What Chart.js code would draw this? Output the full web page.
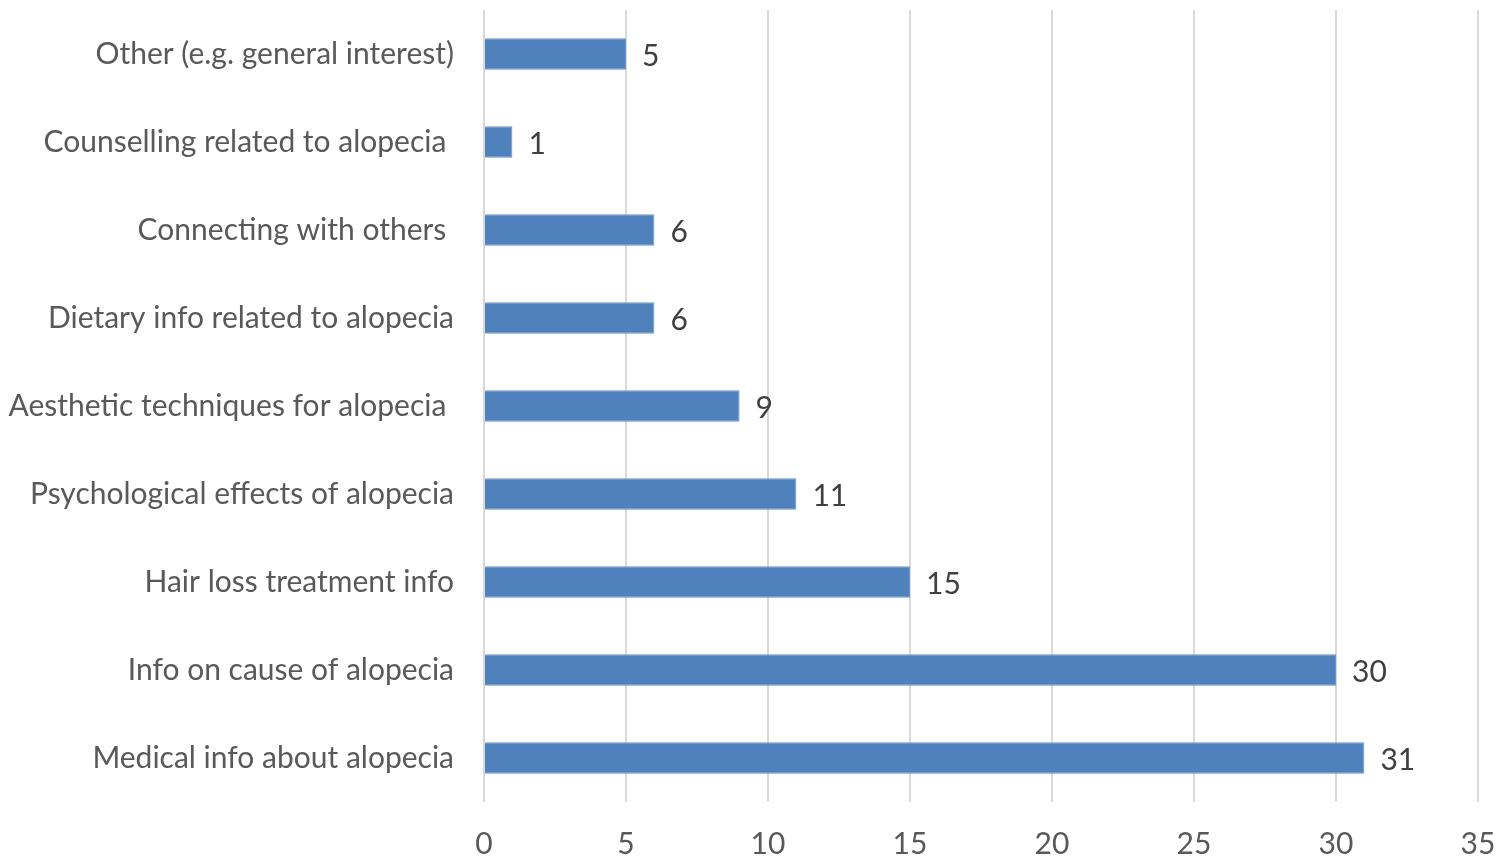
<!DOCTYPE html>
<html>
<head>
<meta charset="utf-8">
<script src="https://cdn.jsdelivr.net/npm/chart.js@4/dist/chart.umd.min.js"></script>
<style>
  html, body { margin: 0; padding: 0; background: #fff; }
  #wrap { width: 1499px; height: 856px; }
</style>
</head>
<body>
<div id="wrap"><canvas id="reasonsChart" width="1499" height="856"></canvas></div>
<script>
const categories = [
    'Other (e.g. general interest)',
    'Counselling related to alopecia ',
    'Connecting with others ',
    'Dietary info related to alopecia',
    'Aesthetic techniques for alopecia ',
    'Psychological effects of alopecia',
    'Hair loss treatment info',
    'Info on cause of alopecia',
    'Medical info about alopecia'
];
const counts = [5, 1, 6, 6, 9, 11, 15, 30, 31];
const xTicks = [0, 5, 10, 15, 20, 25, 30, 35];

const labelFont = { family: "Lato, 'Open Sans', sans-serif", size: 30 };

// writes each count just past the end of its bar
const valueLabels = {
    id: 'valueLabels',
    afterDatasetsDraw(chart) {
        const ctx = chart.ctx;
        const meta = chart.getDatasetMeta(0);
        ctx.save();
        ctx.font = `${labelFont.size}px ${labelFont.family}`;
        ctx.fillStyle = '#404040';
        ctx.textAlign = 'left';
        ctx.textBaseline = 'middle';
        meta.data.forEach((bar, i) => {
            ctx.fillText(String(counts[i]), bar.x + 16, bar.y + 2);
        });
        ctx.restore();
    }
};

Chart.defaults.animation = false;

new Chart(document.getElementById('reasonsChart'), {
    type: 'bar',
    data: {
        labels: categories,
        datasets: [{
            data: counts,
            backgroundColor: '#4f81bd',
            borderColor: '#6d97c8',
            borderWidth: 1,
            categoryPercentage: 1,
            barPercentage: 0.36
        }]
    },
    options: {
        indexAxis: 'y',
        responsive: false,
        layout: { padding: { top: 10, right: 21, left: 0, bottom: 0 } },
        plugins: {
            legend: { display: false },
            tooltip: { enabled: false }
        },
        scales: {
            x: {
                min: 0,
                max: 35,
                afterBuildTicks(axis) {
                    axis.ticks = xTicks.map(v => ({ value: v }));
                },
                afterFit(axis) {
                    axis.height = 54;
                    axis.paddingLeft = 0;
                    axis.paddingRight = 0;
                },
                grid: { color: '#d9d9d9', lineWidth: 2, drawTicks: false },
                border: { display: false },
                ticks: { color: '#595959', font: labelFont, padding: 24 }
            },
            y: {
                afterFit(axis) {
                    axis.width = 484;
                    axis.paddingTop = 0;
                    axis.paddingBottom = 0;
                },
                grid: { display: false, drawTicks: false },
                border: { display: false },
                ticks: { color: '#595959', font: labelFont, padding: 30 }
            }
        }
    },
    plugins: [valueLabels]
});
</script>
</body>
</html>
